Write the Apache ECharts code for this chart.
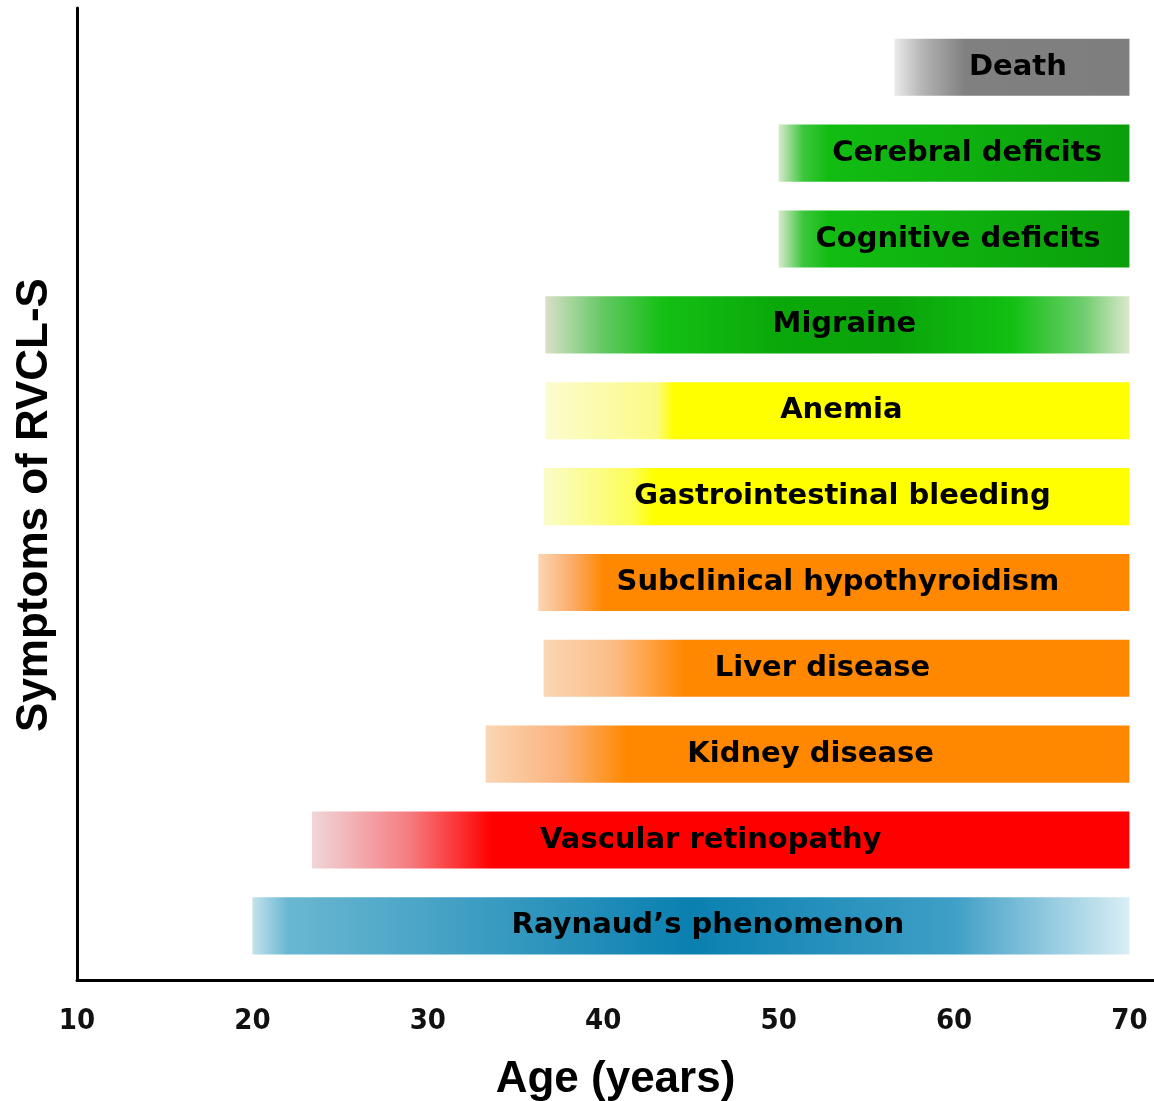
<!DOCTYPE html>
<html>
<head>
<meta charset="utf-8">
<title>Symptoms of RVCL-S</title>
<script src="https://cdn.jsdelivr.net/npm/echarts@6/dist/echarts.min.js"></script>
<style>
  html, body { margin: 0; padding: 0; background: #fff; }
  #chart { width: 1154px; height: 1101px; }
</style>
</head>
<body>
<div id="chart"></div>
<script>
// symptoms, top to bottom as in the figure
const symptoms = [
  'Death',
  'Cerebral deficits',
  'Cognitive deficits',
  'Migraine',
  'Anemia',
  'Gastrointestinal bleeding',
  'Subclinical hypothyroidism',
  'Liver disease',
  'Kidney disease',
  'Vascular retinopathy',
  'Raynaud\u2019s phenomenon'
];
// age of onset (years) and end of bar
const onsetAge = [56.6, 50.0, 50.0, 36.7, 36.7, 36.6, 36.3, 36.6, 33.3, 23.4, 20.0];
const endAge = [70, 70, 70, 70, 70, 70, 70, 70, 70, 70, 70];
const ageTicks = [10, 20, 30, 40, 50, 60, 70];

// gradient stops for each bar (left -> right)
const barColors = [
  [[0, '#ebebeb'], [0.12, '#b4b4b4'], [0.3, '#808080'], [1, '#7e7e7e']],
  [[0, '#d9e9cc'], [0.07, '#3cc63c'], [0.14, '#12bd12'], [1, '#0a9f0a']],
  [[0, '#d9e9cc'], [0.07, '#3cc63c'], [0.14, '#12bd12'], [1, '#0a9f0a']],
  [[0, '#d8e0c8'], [0.1, '#62c862'], [0.2, '#14c014'], [0.4, '#0aa80a'], [0.6, '#0aa40a'], [0.8, '#12c012'], [0.92, '#6ccd6c'], [1, '#dbe8cc']],
  [[0, '#fbfcd0'], [0.19, '#fbfa86'], [0.22, '#ffff00'], [1, '#ffff00']],
  [[0, '#fafcc8'], [0.15, '#fdfd5a'], [0.19, '#ffff00'], [1, '#ffff00']],
  [[0, '#fad6b4'], [0.06, '#fbaa64'], [0.11, '#ff8800'], [1, '#ff8800']],
  [[0, '#fad6b4'], [0.12, '#fbbc86'], [0.24, '#ff8800'], [1, '#ff8800']],
  [[0, '#fad6b4'], [0.12, '#fbb27a'], [0.22, '#ff8800'], [1, '#ff8800']],
  [[0, '#f1d6d9'], [0.12, '#f57b80'], [0.22, '#ff0000'], [1, '#ff0000']],
  [[0, '#c4e2ec'], [0.04, '#6ab7d2'], [0.5, '#0a80b0'], [0.8, '#3f9fc6'], [1, '#daeef5']]
];
// horizontal nudge of each bar's label, px
const labelShift = [6, 13, 4, 7, 4, 6, 4, -14, 3, -10, 17];

const barThickness = 0.665;
const seriesData = symptoms.map((s, i) => [onsetAge[i], endAge[i], symptoms.length - 1 - i]);

function renderBar(params, api) {
  const i = params.dataIndex;
  const start = api.coord([api.value(0), api.value(2)]);
  const end = api.coord([api.value(1), api.value(2)]);
  const h = api.size([0, barThickness])[1];
  return {
    type: 'rect',
    shape: { x: start[0], y: start[1] - h / 2, width: end[0] - start[0], height: h },
    style: {
      fill: new echarts.graphic.LinearGradient(0, 0, 1, 0,
        barColors[i].map(s => ({ offset: s[0], color: s[1] })))
    },
    textContent: {
      style: {
        text: symptoms[i],
        fill: '#000',
        fontFamily: 'DejaVu Sans',
        fontWeight: 'bold',
        fontSize: 29
      }
    },
    textConfig: { position: 'inside', offset: [labelShift[i], 0] }
  };
}

const chart = echarts.init(document.getElementById('chart'));
chart.setOption({
  animation: false,
  grid: { left: 77, right: 0, top: 8, bottom: 121, outerBoundsMode: 'none', containLabel: false },
  xAxis: {
    type: 'value',
    min: 10,
    max: 71.4,
    interval: 10,
    name: 'Age (years)',
    nameLocation: 'middle',
    nameGap: 78,
    nameTextStyle: { fontFamily: 'Liberation Sans', fontWeight: 'bold', fontSize: 44, color: '#000' },
    axisLine: { onZero: false, lineStyle: { color: '#000', width: 3 } },
    axisTick: { show: false },
    splitLine: { show: false },
    axisLabel: {
      margin: 27,
      fontFamily: 'DejaVu Sans Condensed, Liberation Sans Narrow, DejaVu Sans',
      fontWeight: 'bold',
      fontSize: 29,
      color: '#111',
      formatter: v => (ageTicks.indexOf(v) >= 0 ? String(v) : '')
    }
  },
  yAxis: {
    type: 'value',
    min: -0.63,
    max: 10.69,
    name: 'Symptoms of RVCL-S',
    nameLocation: 'middle',
    nameGap: 20,
    nameRotate: 90,
    nameTextStyle: { fontFamily: 'Liberation Sans', fontWeight: 'bold', fontSize: 44, color: '#000', padding: [0, 22, 0, 0] },
    axisLine: { show: true, onZero: false, lineStyle: { color: '#000', width: 3 } },
    axisTick: { show: false },
    axisLabel: { show: false },
    splitLine: { show: false }
  },
  series: [{
    type: 'custom',
    renderItem: renderBar,
    encode: { x: [0, 1], y: 2 },
    data: seriesData
  }]
});
</script>
</body>
</html>
